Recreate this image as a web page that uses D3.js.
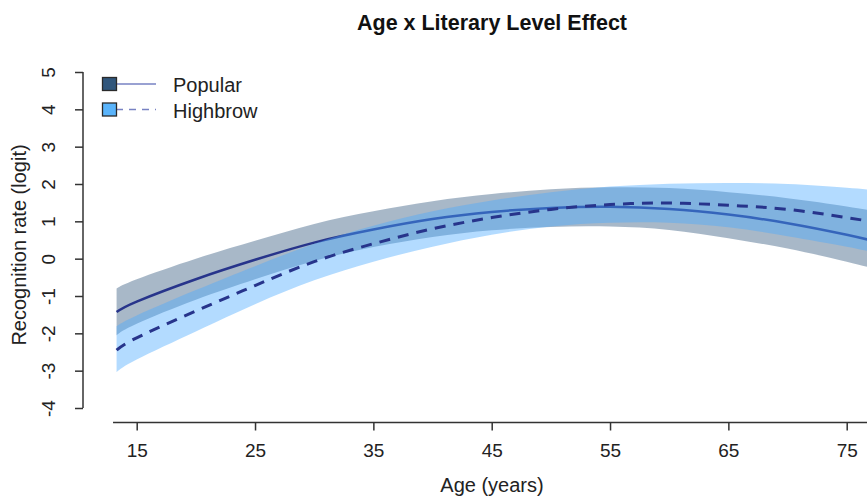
<!DOCTYPE html>
<html><head><meta charset="utf-8">
<script src="https://cdn.jsdelivr.net/npm/d3@7"></script>
<style>
body{margin:0;background:#fff}
svg{display:block;font-family:"Liberation Sans",Arial,Helvetica,sans-serif}
</style>
</head><body>
<svg id="chart" width="867" height="500"></svg>
<script>
// ---- data ----
const ages          = [13.3, 15, 20, 25, 30, 35, 40, 45, 50, 55, 60, 65, 70, 75, 78];
const popularFit    = [-1.43, -1.15, -0.55, -0.03, 0.43, 0.78, 1.06, 1.25, 1.36, 1.39, 1.33, 1.18, 0.95, 0.64, 0.42];
const popularLower  = [-2.05, -1.74, -1.10, -0.55, -0.06, 0.31, 0.58, 0.76, 0.85, 0.86, 0.77, 0.55, 0.27, -0.08, -0.32];
const popularUpper  = [-0.80, -0.55, 0.00, 0.48, 0.93, 1.27, 1.54, 1.73, 1.86, 1.91, 1.89, 1.78, 1.62, 1.40, 1.24];
const highbrowFit   = [-2.45, -2.12, -1.40, -0.72, -0.08, 0.40, 0.80, 1.10, 1.32, 1.45, 1.49, 1.43, 1.32, 1.10, 0.95];
const highbrowLower = [-3.04, -2.70, -1.95, -1.22, -0.58, -0.08, 0.32, 0.64, 0.86, 0.96, 0.96, 0.84, 0.60, 0.32, 0.12];
const highbrowUpper = [-1.81, -1.52, -0.84, -0.20, 0.40, 0.88, 1.27, 1.56, 1.78, 1.93, 2.01, 2.03, 2.00, 1.90, 1.82];
const xTicks = [15, 25, 35, 45, 55, 65, 75];
const yTicks = [-4, -3, -2, -1, 0, 1, 2, 3, 4, 5];
const legendLabels = ["Popular", "Highbrow"];
const titleText = "Age x Literary Level Effect";
const xTitle = "Age (years)";
const yTitle = "Recognition rate (logit)";

// ---- styles ----
const popularColor = "#30567c";
const highbrowColor = "#4aa9ff";
const bandOpacity = 0.42;
const lineColor = "#27348b";

const svg = d3.select("#chart");
const x = d3.scaleLinear().domain([15, 75]).range([136.7, 846.7]);
const y = d3.scaleLinear().domain([-4, 5]).range([408, 72]);

const popular = ages.map((a, i) => ({a, fit: popularFit[i], lo: popularLower[i], hi: popularUpper[i]}));
const highbrow = ages.map((a, i) => ({a, fit: highbrowFit[i], lo: highbrowLower[i], hi: highbrowUpper[i]}));

const area = d3.area().x(d => x(d.a)).y0(d => y(d.lo)).y1(d => y(d.hi)).curve(d3.curveNatural);
const line = d3.line().x(d => x(d.a)).y(d => y(d.fit)).curve(d3.curveNatural);

// Popular band + line
svg.append("path").attr("d", area(popular)).attr("fill", popularColor).attr("fill-opacity", bandOpacity);
svg.append("path").attr("d", line(popular)).attr("fill", "none").attr("stroke", lineColor).attr("stroke-width", 2.5);
// Highbrow band + line
svg.append("path").attr("d", area(highbrow)).attr("fill", highbrowColor).attr("fill-opacity", bandOpacity);
svg.append("path").attr("d", line(highbrow)).attr("fill", "none").attr("stroke", lineColor)
  .attr("stroke-width", 3).attr("stroke-dasharray", "11,8");

// ---- axes ----
const axisColor = "#333";
const tickFont = 19;
// y axis
const yAxis = d3.axisLeft(y).tickValues(yTicks).tickSize(8).tickPadding(0);
const gy = svg.append("g").attr("transform", "translate(83,0)").call(yAxis);
gy.select(".domain").attr("d", `M0,${y(5)}V${y(-4)}`).attr("stroke", axisColor).attr("stroke-width", 1.5);
gy.selectAll(".tick line").attr("stroke", axisColor).attr("stroke-width", 1.5);
gy.selectAll(".tick text").attr("fill", "#222").attr("font-size", tickFont)
  .attr("x", 0).attr("dy", 0)
  .attr("transform", "translate(-35,0) rotate(-90)")
  .attr("text-anchor", "middle").attr("dominant-baseline", "central")
  .text(d => d < 0 ? "-" + Math.abs(d) : String(d));

// x axis
const xAxis = d3.axisBottom(x).tickValues(xTicks).tickSize(8).tickPadding(13);
const gx = svg.append("g").attr("transform", "translate(0,422.5)").call(xAxis);
gx.select(".domain").attr("d", `M${x(13)},0H${x(80)}`).attr("stroke", axisColor).attr("stroke-width", 1.5);
gx.selectAll(".tick line").attr("stroke", axisColor).attr("stroke-width", 1.5);
gx.selectAll(".tick text").attr("fill", "#222").attr("font-size", tickFont);

// titles
svg.append("text").attr("x", 492).attr("y", 30).attr("text-anchor", "middle")
  .attr("font-size", 21.5).attr("font-weight", "bold").attr("fill", "#111").text(titleText);
svg.append("text").attr("x", 492).attr("y", 492).attr("text-anchor", "middle")
  .attr("font-size", 20).attr("fill", "#222").text(xTitle);
svg.append("text").attr("transform", "translate(26,245) rotate(-90)").attr("text-anchor", "middle")
  .attr("font-size", 20).attr("fill", "#222").text(yTitle);

// legend
const legend = svg.append("g");
const legendFills = [popularColor, "#5ab4fb"];
const legendDash = [null, "7,6"];
legendLabels.forEach((lab, i) => {
  const cy = 84 + i * 25.5;
  legend.append("line").attr("x1", 116).attr("x2", 156).attr("y1", cy).attr("y2", cy)
    .attr("stroke", "#5663b4").attr("stroke-opacity", 0.8).attr("stroke-width", 1.6)
    .attr("stroke-dasharray", legendDash[i]);
  legend.append("rect").attr("x", 102.5).attr("y", cy - 6.5).attr("width", 14).attr("height", 13)
    .attr("fill", legendFills[i]).attr("stroke", "#2a2a2a").attr("stroke-width", 1.3);
  legend.append("text").attr("x", 173).attr("y", cy + 1).attr("dominant-baseline", "central")
    .attr("font-size", 20).attr("fill", "#222").text(lab);
});
</script>
</body></html>
